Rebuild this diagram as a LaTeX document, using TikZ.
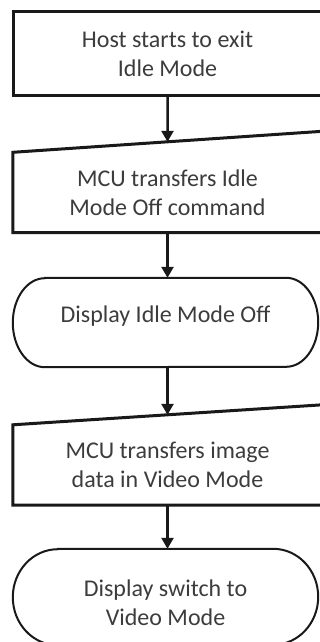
\documentclass[tikz,border=0pt]{standalone}
\usepackage{fontspec}
\setmainfont{Carlito}
\usetikzlibrary{positioning}
\usetikzlibrary{calc}
\usetikzlibrary{arrows.meta}
\definecolor{ink}{RGB}{25,25,25}
\definecolor{label}{RGB}{60,60,60}

\begin{document}
\begin{tikzpicture}[x=1pt, y=-1pt,
    every node/.style={font=\fontsize{24}{29}\selectfont, align=center, text=label},
    procbox/.style={draw=ink, line width=3pt, minimum width=309pt, minimum height=83pt, inner sep=0pt},
    inbox/.style={minimum width=309pt, minimum height=80pt, inner sep=0pt},
    termbox/.style={minimum width=305pt, inner sep=0pt},
    inline/.style={draw=ink, line width=3pt, line join=miter},
    termline/.style={draw=ink, line width=2pt},
    flow/.style={-{Triangle[length=11pt, width=12pt]}, draw=ink, line width=2.5pt}]
    \useasboundingbox (0,0) rectangle (320,642);
    \clip (0,0) rectangle (320,642);

    % process
    \node[procbox] (host) at (167.5,53.5) {Host starts to exit\\Idle Mode};

    % manual input 1
    \node[inbox] (mcu1) at (167.5,192.5) {MCU transfers Idle\\Mode Off command};
    \draw[inline] ($(mcu1.north east)+(0,-21)$) -- (mcu1.north west) -- (mcu1.south west) -- (mcu1.south east) -- cycle;
    \coordinate (mcu1 top) at ($(mcu1.north west)!0.5!(mcu1.north east)+(0,-10.5)$);

    % terminal 1
    \node[termbox, minimum height=89pt] (disp1) at (165.5,322.5) {};
    \draw[termline] ([xshift=32pt]disp1.north west) -- ([xshift=-32pt]disp1.north east)
        arc[start angle=90, end angle=-90, x radius=32pt, y radius=44.5pt]
        -- ([xshift=32pt]disp1.south west)
        arc[start angle=270, end angle=90, x radius=32pt, y radius=44.5pt] -- cycle;
    \node (disp1 text) at ([yshift=6pt]disp1.center) {Display Idle Mode Off};

    % manual input 2
    \node[inbox] (mcu2) at (167.5,465) {MCU transfers image\\data in Video Mode};
    \draw[inline] ($(mcu2.north east)+(0,-20)$) -- (mcu2.north west) -- (mcu2.south west) -- (mcu2.south east) -- cycle;
    \coordinate (mcu2 top) at ($(mcu2.north west)!0.5!(mcu2.north east)+(0,-10)$);

    % terminal 2
    \node[termbox, minimum height=96pt] (disp2) at (165.5,597) {};
    \draw[termline] ([xshift=45pt]disp2.north west) -- ([xshift=-45pt]disp2.north east)
        arc[start angle=90, end angle=-90, x radius=45pt, y radius=48pt]
        -- ([xshift=45pt]disp2.south west)
        arc[start angle=270, end angle=90, x radius=45pt, y radius=48pt] -- cycle;
    \node (disp2 text) at ([yshift=-6pt]disp2.center) {Display switch to\\Video Mode};

    % connectors
    \draw[flow] (host) -- (mcu1 top);
    \draw[flow] (mcu1.south) -- (mcu1.south |- disp1.north);
    \draw[flow] (mcu2 top |- disp1.south) -- (mcu2 top);
    \draw[flow] (mcu2.south) -- (mcu2.south |- disp2.north);
\end{tikzpicture}
\end{document}
